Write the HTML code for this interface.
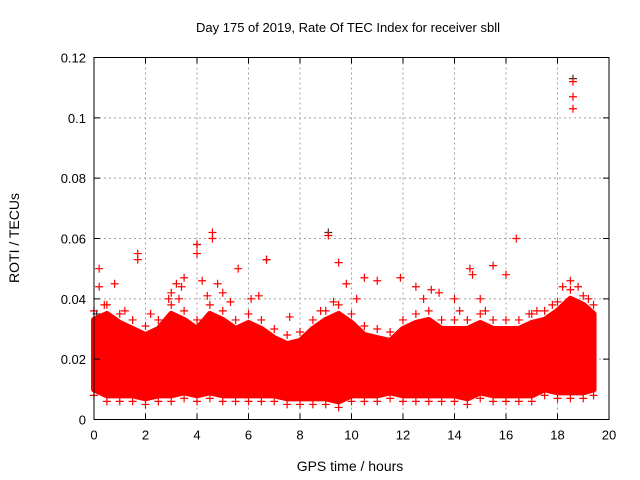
<!DOCTYPE html>
<html><head><meta charset="utf-8"><style>
body{margin:0;background:#fff}
svg{display:block;font-family:"Liberation Sans",sans-serif}
</style></head><body>
<svg id="chart" width="640" height="480" viewBox="0 0 640 480">
<rect width="640" height="480" fill="#fff"/>
<text x="348" y="32" font-size="13" text-anchor="middle">Day 175 of 2019, Rate Of TEC Index for receiver sbll</text>
<text transform="translate(19,238) rotate(-90)" font-size="14" text-anchor="middle">ROTI / TECUs</text>
<text x="350" y="471" font-size="14" text-anchor="middle">GPS time / hours</text>
<g id="grid"></g>
<g id="marks"></g>
<g id="axes"></g>
</svg>
<script>
const binTimes=[0,0.5,1,1.5,2,2.5,3,3.5,4,4.5,5,5.5,6,6.5,7,7.5,8,8.5,9,9.5,10,10.5,11,11.5,12,12.5,13,13.5,14,14.5,15,15.5,16,16.5,17,17.5,18,18.5,19,19.4];
const binLow=[.010,.008,.008,.008,.007,.008,.008,.009,.008,.009,.008,.008,.008,.008,.008,.007,.007,.007,.007,.006,.008,.008,.008,.009,.008,.008,.008,.008,.008,.007,.009,.008,.008,.008,.008,.010,.009,.009,.009,.010];
const binHigh=[.033,.035,.032,.030,.028,.030,.035,.033,.030,.035,.033,.030,.032,.030,.027,.025,.026,.030,.033,.035,.032,.028,.027,.026,.030,.032,.033,.030,.030,.030,.032,.030,.030,.030,.032,.033,.036,.040,.038,.035];
const outT=[0.2,0.2,1.7,1.7,3.2,3.3,4,4,4.6,4.6,5.6,6.7,9.1,9.5,10.5,12.5,13.1,14.6,15.5,16,16.4,18.5,18.6,18.6,18.6,0.8,4.2,2.9,3.5,11,11.9,14,15,5.0,7.6,9.8,13.4,17.2,18.2,19.2,0.4,1.2,2.2,3.0,3.4,4.4,4.8,5.3,6.1,6.4,8.8,9.3,10.2,12.8,14.2,14.7,15.2,16.9,17.8,18.8];
const outV=[.050,.044,.055,.053,.045,.040,.058,.055,.062,.060,.050,.053,.061,.052,.047,.044,.043,.050,.051,.048,.060,.046,.112,.107,.103,.045,.046,.040,.047,.046,.047,.040,.040,.042,.034,.045,.042,.036,.044,.040,.038,.036,.035,.042,.044,.041,.045,.039,.040,.041,.036,.039,.040,.040,.036,.048,.036,.035,.038,.044];
const blackT=[18.6,4,9.1,6.7,0.1];
const blackV=[.113,.058,.062,.053,.035];
const xTicks=[0,2,4,6,8,10,12,14,16,18,20];
const yTicks=[0,0.02,0.04,0.06,0.08,0.1,0.12];
const yTickLabels=["0","0.02","0.04","0.06","0.08","0.1","0.12"];

const X0=94,X1=609,Y0=419.5,Y1=57.5;
const xs=t=>X0+(t/20)*(X1-X0);
const ys=v=>Y0-(v/0.12)*(Y0-Y1);
const NS="http://www.w3.org/2000/svg";
function mk(tag,attrs,parent){const e=document.createElementNS(NS,tag);for(const k in attrs)e.setAttribute(k,attrs[k]);parent.appendChild(e);return e;}
const grid=document.getElementById('grid'),marks=document.getElementById('marks'),axes=document.getElementById('axes');
xTicks.forEach((t,i)=>{
  if(i>0&&i<xTicks.length-1){const l=mk('line',{x1:xs(t),x2:xs(t),y1:Y1,y2:Y0,stroke:'#a0a0a0','stroke-dasharray':'2,3'},grid);
  }
  const tk=mk('path',{d:`M${xs(t)},${Y0}v-6M${xs(t)},${Y1}v6`,stroke:'#000'},axes);
  
  const tx=mk('text',{x:xs(t),y:Y0+20,'font-size':13,'text-anchor':'middle'},axes);tx.textContent=String(t);
  
});
yTicks.forEach((v,i)=>{
  if(i>0&&i<yTicks.length-1){const l=mk('line',{x1:X0,x2:X1,y1:ys(v),y2:ys(v),stroke:'#a0a0a0','stroke-dasharray':'2,3'},grid);
  }
  const tk=mk('path',{d:`M${X0},${ys(v)}h6M${X1},${ys(v)}h-6`,stroke:'#000'},axes);
  
  const tx=mk('text',{x:X0-8,y:ys(v)+5,'font-size':13,'text-anchor':'end'},axes);tx.textContent=yTickLabels[i];
  
});
const fr=mk('rect',{x:X0,y:Y1,width:X1-X0,height:Y0-Y1,fill:'none',stroke:'#000'},axes);

function plus(t,v,col){const p=mk('path',{d:`M${xs(t)-4},${ys(v)}h8M${xs(t)},${ys(v)-4}v8`,stroke:col,'stroke-width':1.2},marks);return p;}
blackT.forEach((t,i)=>{const p=plus(t,blackV[i],'#333');
  });
let d='';
binTimes.forEach((t,i)=>{d+=(i?'L':'M')+xs(t)+','+ys(binHigh[i]);});
for(let i=binTimes.length-1;i>=0;i--)d+='L'+xs(binTimes[i])+','+ys(binLow[i]);
const band=mk('path',{d:d+'Z',fill:'#ff0000',stroke:'#ff0000','stroke-width':6,'stroke-linejoin':'round'},marks);

binTimes.forEach((t,i)=>{
  const a=plus(t,binHigh[i]+0.003,'#ff0000');
  const b=plus(t,binLow[i]-0.002,'#ff0000');
});
outT.forEach((t,i)=>{const p=plus(t,outV[i],'#ff0000');
  });
</script>
</body></html>
